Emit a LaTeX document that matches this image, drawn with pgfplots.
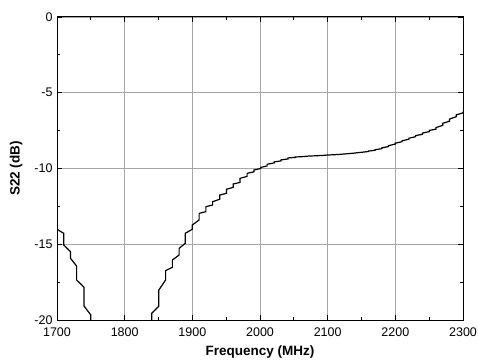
\documentclass[border=0pt]{standalone}
\usepackage{fontspec}
\setmainfont{Liberation Sans}
\usepackage{pgfplots}
\pgfplotsset{compat=1.18}
\begin{document}
\begin{tikzpicture}
\begin{axis}[
  scale only axis, width=406pt, height=303pt,
  xmin=1700, xmax=2300, ymin=-20, ymax=0,
  xtick={1700,1800,...,2300}, ytick={-20,-15,...,0},
  minor x tick num=1, minor y tick num=1,
  tick align=inside, major tick length=5pt, minor tick length=3pt,
  grid=major, major grid style={gray!70, line width=0.8pt},
  axis line style={line width=1pt},
  every tick/.style={black, line width=0.8pt},
  /pgf/number format/assume math mode=true,
  /pgf/number format/1000 sep={},
  ticklabel style={font=\fontsize{12.5}{14}\selectfont},
  xticklabel style={yshift=-4pt},
  yticklabel style={xshift=-1pt},
  xlabel={Frequency (MHz)}, ylabel={S22 (dB)},
  label style={font=\fontsize{13.5}{15}\selectfont\bfseries},
  xlabel style={yshift=-2pt},
  ylabel style={yshift=5pt},
]
\addplot[black, line width=1.2pt] coordinates {
(1700,-13.2) (1700,-14.01) (1710,-14.28) (1710,-15.05) (1720,-15.49) (1720,-15.93)
(1729,-16.44) (1729,-17.36) (1740,-17.84) (1740,-19.08) (1750,-19.67) (1750,-20)
};
\addplot[black, line width=1.2pt] coordinates {
(1840,-20) (1840,-19.56) (1850.5,-19.08) (1850.5,-18.02) (1860.5,-17.36) (1860.5,-16.74)
(1870.5,-16.52) (1870.5,-16.04) (1880.5,-15.71) (1880.5,-15.27) (1889.5,-14.94) (1889.5,-14.28)
(1900,-14.01) (1900,-13.73) (1910,-13.40) (1910,-12.96) (1920,-12.85) (1920,-12.52)
(1930,-12.41) (1930,-12.19) (1940.5,-12.03) (1940.5,-11.75) (1950.5,-11.64) (1950.5,-11.37)
(1960.5,-11.24) (1960.5,-11.02) (1970.5,-10.92) (1970.5,-10.65) (1981,-10.52) (1981,-10.32)
(1991,-10.22) (1991,-10.10) (2001,-10.0) (2001,-9.93) (2010.5,-9.83) (2010.5,-9.72)
(2021,-9.63) (2021,-9.56) (2031,-9.50) (2031,-9.43) (2041.5,-9.37) (2041.5,-9.30)
(2052,-9.27) (2052,-9.24) (2062,-9.22) (2072,-9.18) (2082,-9.16) (2092,-9.14)
(2100,-9.11) (2110,-9.09) (2120,-9.06) (2130,-9.02) (2140,-8.98) (2150,-8.93)
(2160,-8.88) (2160,-8.85) (2170,-8.80) (2170,-8.76) (2180,-8.69) (2180,-8.64)
(2190,-8.55) (2190,-8.49) (2200,-8.39) (2200,-8.33) (2210,-8.23) (2210,-8.17)
(2220,-8.07) (2220,-8.0) (2230,-7.9) (2230,-7.83) (2240,-7.74) (2240,-7.66)
(2250,-7.57) (2250,-7.49) (2260,-7.40) (2260,-7.30) (2270,-7.15) (2270,-7.02)
(2280,-6.88) (2280,-6.74) (2290,-6.58) (2290,-6.46) (2300,-6.33) (2300,-6.25)
};
\end{axis}
\pgfresetboundingbox
\path[use as bounding box] ([xshift=-57pt,yshift=-42pt]current axis.south west) rectangle ([xshift=15pt,yshift=17pt]current axis.north east);
\end{tikzpicture}
\end{document}
